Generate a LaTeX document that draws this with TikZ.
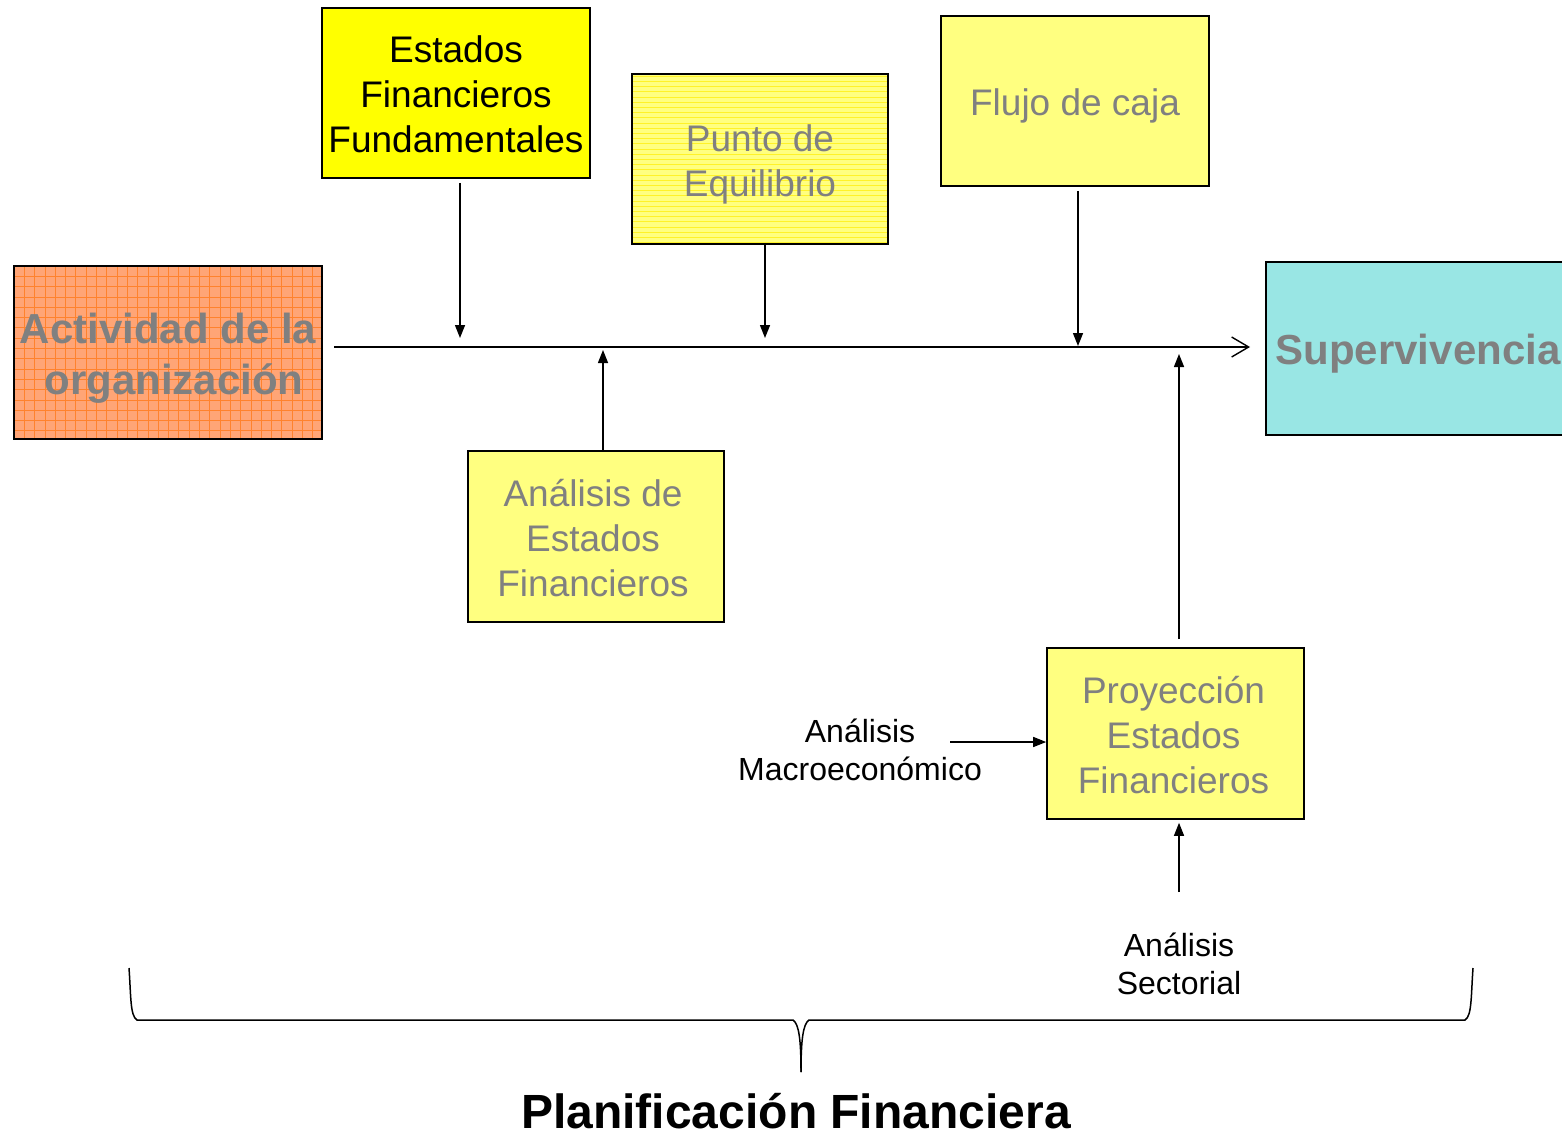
\documentclass[tikz,border=0pt]{standalone}
\usepackage{fontspec}
\setmainfont{Liberation Sans}
\usetikzlibrary{arrows.meta}
\definecolor{yel}{RGB}{255,255,0}
\definecolor{lyel}{RGB}{255,255,128}
\definecolor{lyline}{RGB}{255,242,40}
\definecolor{orng}{RGB}{255,165,118}
\definecolor{orline}{RGB}{255,130,45}
\definecolor{cyanb}{RGB}{153,230,228}
\definecolor{txtgray}{RGB}{128,128,128}
\begin{document}
\begin{tikzpicture}[x=1pt,y=-1pt,
  box/.style={draw=black, line width=1.6pt, rectangle, inner sep=0pt},
  boxtxt/.style={align=center, inner sep=0pt, font=\fontsize{37}{45}\selectfont},
  bigtxt/.style={align=center, inner sep=0pt, font=\bfseries\fontsize{42}{51}\selectfont, text=txtgray},
  arr/.style={-{Triangle[length=13pt,width=10pt]}, line width=1.4pt},
  lbl/.style={align=center, font=\fontsize{32}{38.5}\selectfont}]
\useasboundingbox (0,0) rectangle (1562,1133);

% orange box background with grid
\fill[orng] (14,266) rectangle (322,439);
\begin{scope}
  \clip (14,266) rectangle (322,439);
  \foreach \i in {0,...,30} \draw[orline, line width=0.7pt] (14+\i*10.3,266) -- (14+\i*10.3,439);
  \foreach \i in {0,...,17} \draw[orline, line width=0.7pt] (14,266+\i*10.3) -- (322,266+\i*10.3);
\end{scope}
\node[box, minimum width=308pt, minimum height=173pt] (act) at (168,352.5) {};
\node[bigtxt] (act-t) at ([yshift=-6pt]act.center) {Actividad de la\\\hspace*{12pt}organización};

% Punto de equilibrio background with lines
\fill[lyel] (632,74) rectangle (888,244);
\begin{scope}
  \clip (632,74) rectangle (888,244);
  \foreach \i in {0,...,33} \draw[lyline, line width=0.5pt] (632,76+\i*5.2) -- (888,76+\i*5.2);
\end{scope}
\node[box, minimum width=256pt, minimum height=170pt] (pe) at (760,159) {};
\node[boxtxt, text=txtgray] (pe-t) at ([yshift=-5pt]pe.center) {Punto de\\Equilibrio};

\node[box, fill=yel, minimum width=268pt, minimum height=170pt] (eff) at (456,93) {};
\node[boxtxt] (eff-t) at ([yshift=-1pt]eff.center) {Estados\\Financieros\\Fundamentales};

\node[box, fill=lyel, minimum width=268pt, minimum height=170pt] (fc) at (1075,101) {};
\node[boxtxt, text=txtgray] (fc-t) at ([yshift=-5pt]fc.center) {Flujo de caja};

\node[box, fill=cyanb, minimum width=310pt, minimum height=173pt] (sup) at (1421,348.5) {};
\node[bigtxt] (sup-t) at ([xshift=-3pt,yshift=-5pt]sup.center) {Supervivencia};

\node[box, fill=lyel, minimum width=256pt, minimum height=171pt] (an) at (596,536.5) {};
\node[boxtxt, text=txtgray] (an-t) at ([xshift=-3pt,yshift=-2pt]an.center) {Análisis de\\Estados\\Financieros};

\node[box, fill=lyel, minimum width=257pt, minimum height=171pt] (proy) at (1175.5,733.5) {};
\node[boxtxt, text=txtgray] (proy-t) at ([xshift=-2pt,yshift=-2pt]proy.center) {Proyección\\Estados\\Financieros};

\node[lbl] (macro) at (860,750) {Análisis\\Macroeconómico};
\node[lbl] (sect) at (1179,964) {Análisis\\Sectorial};

% main line
\coordinate (ms) at (334,347);
\coordinate (me) at (1250,347);
\draw[line width=1.4pt, -{Straight Barb[length=17pt,width=20pt,line width=1.4pt]}] (ms) -- (me);

\coordinate (t1) at (460,338);
\coordinate (t2) at (765,338);
\coordinate (t3) at (1078,346);
\coordinate (t4) at (603,350);
\coordinate (t5) at (1179,354);
\draw[arr, shorten <=4pt] (eff.south -| t1) -- (t1);
\draw[arr, shorten <=-2pt] (pe.south -| t2) -- (t2);
\draw[arr, shorten <=4pt] (fc.south -| t3) -- (t3);
\draw[arr] (an.north -| t4) -- (t4);
\draw[arr, shorten <=8pt] (proy.north -| t5) -- (t5);

\coordinate (mstart) at (950,742);
\draw[arr] (mstart) -- (mstart -| proy.west);
\coordinate (sstart) at (1179,892);
\draw[arr, shorten >=3pt] (sstart) -- (sstart |- proy.south);

% brace
\coordinate (bl) at (129,968);
\coordinate (bt) at (801,1072);
\coordinate (br) at (1473,968);
\draw[line width=1.5pt] (bl) .. controls (131,995) and (130,1016) .. (137,1020) -- (793,1020)
  .. controls (799,1024) and (801,1040) .. (bt);
\draw[line width=1.5pt] (bt) .. controls (801,1040) and (803,1024) .. (809,1020) -- (1465,1020)
  .. controls (1472,1016) and (1471,995) .. (br);

\node[font=\bfseries\fontsize{48}{58}\selectfont, anchor=base, inner sep=0pt] (title) at (796,1128) {Planificación Financiera};
\end{tikzpicture}
\end{document}
